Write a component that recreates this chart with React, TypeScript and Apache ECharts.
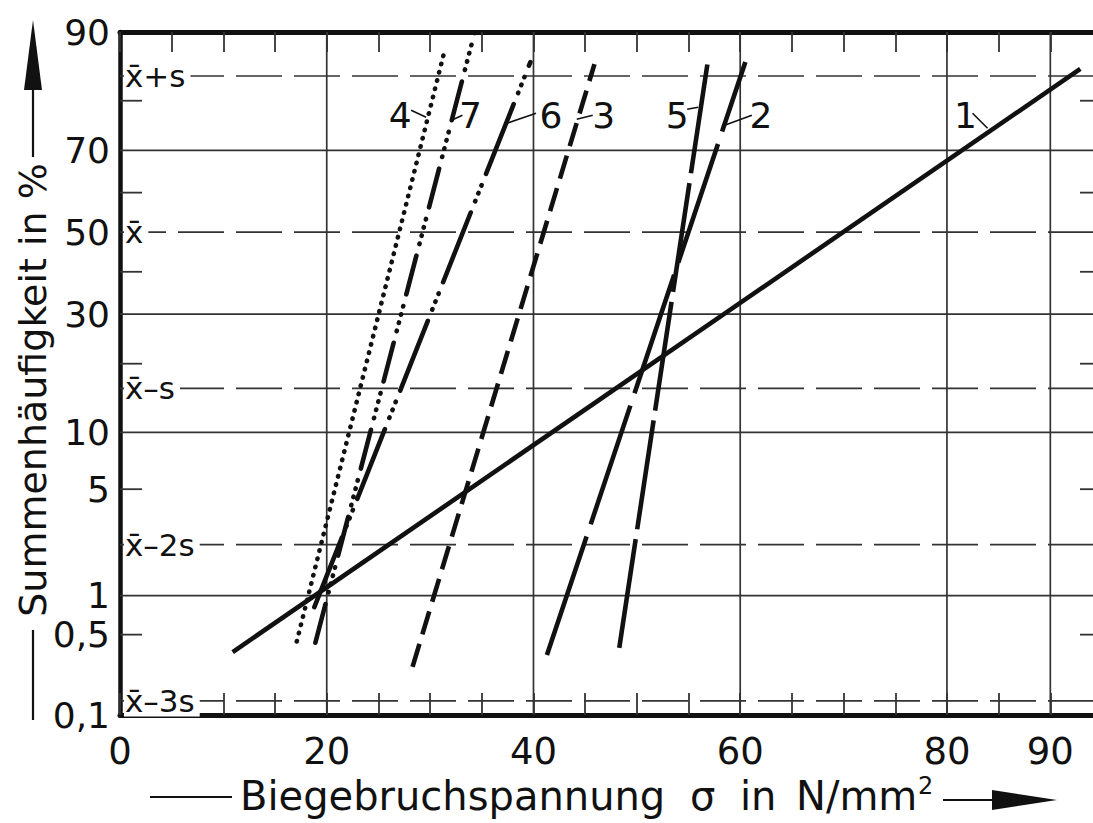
import React, { useEffect, useRef } from 'react';
import * as echarts from 'echarts';

// ---------- data ----------
const xTickValues = [0, 20, 40, 60, 80, 90];
const xGridValues = [20, 40, 60, 80, 90];
const yTickPercents = [90, 70, 50, 30, 10, 5, 1, 0.5, 0.1];
const yTickLabels = ['90', '70', '50', '30', '10', '5', '1', '0,5', '0,1'];
const ySolidPercents = [70, 30, 10, 1];
const yMinorPercents = [80, 60, 40, 20, 5, 0.5];
const sigmaLevels = [1, 0, -1, -2, -3];
const sigmaLabels = ['x\u0304+s', 'x\u0304', 'x\u0304\u2013s', 'x\u0304\u20132s', 'x\u0304\u20133s'];

const curveNames = ['1', '2', '3', '4', '5', '6', '7'];
// [start, end] stress values (N/mm²)
const curveStress = [
  [10.9, 92.9],
  [41.3, 60.5],
  [28.3, 45.9],
  [17.1, 31.3],
  [48.3, 56.9],
  [18.8, 39.7],
  [18.9, 34.3],
];
// [start, end] cumulative frequency in %
const curvePercent = [
  [0.36, 85.2],
  [0.34, 86.2],
  [0.27, 85.9],
  [0.44, 87.2],
  [0.39, 86.6],
  [0.82, 86.2],
  [0.43, 89.9],
];
const curveLabelStress = [81.8, 62.0, 46.8, 27.1, 53.9, 41.7, 33.9];
const curveLabelPercent = 77.3;

// ---------- styles ----------
const FONT = '"DejaVu Sans", sans-serif';
const INK = '#111';
const GRIDC = '#333';
const X_MIN = 0;
const X_MAX = 95;

const curveDash: any[] = [
  'solid',
  [125, 13],
  [24, 10],
  [0.5, 8],
  [110, 10],
  [75, 12, 0.5, 8, 0.5, 8, 0.5, 12],
  [40, 12, 0.5, 8, 0.5, 8, 0.5, 8, 0.5, 12],
];
const curveCap = ['butt', 'butt', 'butt', 'round', 'butt', 'round', 'round'];
// leader line offsets relative to label centre [x1, y1, x2, y2] in px
const leaderOffsets = [
  [7, -2, 22, 13],
  [-39, 11, -9, 0],
  [-27, 4, -11, 0],
  [11, -5, 26, 2],
  [10, -6, 21, -8],
  [-44, 8, -15, -2],
  [-19, 5, -8, 0],
];

// inverse of the standard normal CDF (probability-paper scale)
function probit(p: number): number {
  const a = [-3.969683028665376e1, 2.209460984245205e2, -2.759285104469687e2, 1.38357751867269e2, -3.066479806614716e1, 2.506628277459239];
  const b = [-5.447609879822406e1, 1.615858368580409e2, -1.556989798598866e2, 6.680131188771972e1, -1.328068155288572e1];
  const c = [-7.784894002430293e-3, -3.223964580411365e-1, -2.400758277161838, -2.549732539343734, 4.374664141464968, 2.938163982698783];
  const d = [7.784695709041462e-3, 3.224671290700398e-1, 2.445134137142996, 3.754408661907416];
  const plow = 0.02425;
  if (p < plow) {
    const q = Math.sqrt(-2 * Math.log(p));
    return (((((c[0] * q + c[1]) * q + c[2]) * q + c[3]) * q + c[4]) * q + c[5]) / ((((d[0] * q + d[1]) * q + d[2]) * q + d[3]) * q + 1);
  }
  if (p <= 1 - plow) {
    const q = p - 0.5;
    const r = q * q;
    return ((((((a[0] * r + a[1]) * r + a[2]) * r + a[3]) * r + a[4]) * r + a[5]) * q) / (((((b[0] * r + b[1]) * r + b[2]) * r + b[3]) * r + b[4]) * r + 1);
  }
  const q = Math.sqrt(-2 * Math.log(1 - p));
  return -(((((c[0] * q + c[1]) * q + c[2]) * q + c[3]) * q + c[4]) * q + c[5]) / ((((d[0] * q + d[1]) * q + d[2]) * q + d[3]) * q + 1);
}
const z = (pct: number) => probit(pct / 100);
const Y_MIN = z(0.1);
const Y_MAX = z(90);

function buildOption(): any {
  const curveSeries = curveNames.map((name, i) => ({
    type: 'line',
    name,
    data: [
      [curveStress[i][0], z(curvePercent[i][0])],
      [curveStress[i][1], z(curvePercent[i][1])],
    ],
    symbol: 'none',
    showSymbol: false,
    silent: true,
    z: 5,
    lineStyle: { color: INK, width: 4.6, type: curveDash[i], cap: curveCap[i] },
  }));

  const hLines = {
    type: 'custom',
    silent: true,
    z: 1,
    data: ySolidPercents.map((p) => [X_MIN, z(p)]),
    renderItem: (params: any, api: any) => {
      const a = api.coord([X_MIN, api.value(1)]);
      const b = api.coord([X_MAX, api.value(1)]);
      return { type: 'line', shape: { x1: a[0], y1: a[1], x2: b[0], y2: b[1] }, style: { stroke: GRIDC, lineWidth: 1.7 } };
    },
  };

  const vLines = {
    type: 'custom',
    silent: true,
    z: 1,
    data: xGridValues.map((x) => [x, Y_MIN]),
    renderItem: (params: any, api: any) => {
      const a = api.coord([api.value(0), Y_MIN]);
      const b = api.coord([api.value(0), Y_MAX]);
      return { type: 'line', shape: { x1: a[0], y1: a[1], x2: b[0], y2: b[1] }, style: { stroke: GRIDC, lineWidth: 1.7 } };
    },
  };

  const minorTicks = {
    type: 'custom',
    silent: true,
    z: 1,
    data: yMinorPercents.map((p) => [X_MIN, z(p)]),
    renderItem: (params: any, api: any) => {
      const a = api.coord([X_MIN, api.value(1)]);
      const b = api.coord([X_MAX, api.value(1)]);
      return {
        type: 'group',
        children: [
          { type: 'line', shape: { x1: a[0], y1: a[1], x2: a[0] + 22, y2: a[1] }, style: { stroke: GRIDC, lineWidth: 1.8 } },
          { type: 'line', shape: { x1: b[0] - 22, y1: b[1], x2: b[0], y2: b[1] }, style: { stroke: GRIDC, lineWidth: 1.8 } },
        ],
      };
    },
  };

  const sigmaSeries = {
    type: 'custom',
    silent: true,
    z: 2,
    data: sigmaLevels.map((s) => [X_MIN, s]),
    renderItem: (params: any, api: any) => {
      const a = api.coord([X_MIN, api.value(1)]);
      const b = api.coord([X_MAX, api.value(1)]);
      return {
        type: 'group',
        children: [
          { type: 'line', shape: { x1: a[0], y1: a[1], x2: b[0], y2: b[1] }, style: { stroke: GRIDC, lineWidth: 1.7, lineDash: [46, 12] } },
          {
            type: 'text',
            x: a[0] + 4,
            y: a[1],
            style: {
              text: sigmaLabels[params.dataIndex],
              fill: INK,
              fontSize: 31,
              fontFamily: FONT,
              align: 'left',
              verticalAlign: 'middle',
              backgroundColor: '#fff',
              padding: [0, 5, 0, 1],
            },
          },
        ],
      };
    },
  };

  const yLabels = {
    type: 'custom',
    silent: true,
    z: 2,
    data: yTickPercents.map((p) => [X_MIN, z(p)]),
    renderItem: (params: any, api: any) => {
      const a = api.coord([X_MIN, api.value(1)]);
      return {
        type: 'text',
        x: a[0] - 10,
        y: a[1],
        style: { text: yTickLabels[params.dataIndex], fill: INK, fontSize: 36, fontFamily: FONT, align: 'right', verticalAlign: 'middle' },
      };
    },
  };

  const curveLabels = {
    type: 'custom',
    silent: true,
    z: 6,
    data: curveLabelStress.map((x) => [x, z(curveLabelPercent)]),
    renderItem: (params: any, api: any) => {
      const c = api.coord([api.value(0), api.value(1)]);
      const o = leaderOffsets[params.dataIndex];
      return {
        type: 'group',
        children: [
          {
            type: 'text',
            x: c[0],
            y: c[1],
            style: { text: curveNames[params.dataIndex], fill: INK, fontSize: 36, fontFamily: FONT, align: 'center', verticalAlign: 'middle' },
          },
          { type: 'line', shape: { x1: c[0] + o[0], y1: c[1] + o[1], x2: c[0] + o[2], y2: c[1] + o[3] }, style: { stroke: INK, lineWidth: 1.6 } },
        ],
      };
    },
  };

  return {
    animation: false,
    backgroundColor: '#fff',
    textStyle: { fontFamily: FONT },
    grid: { left: 120, right: -9, top: 32, bottom: 108, outerBoundsMode: 'none' },
    xAxis: [
      {
        type: 'value',
        position: 'bottom',
        min: X_MIN,
        max: X_MAX,
        interval: 5,
        axisLine: { show: true, onZero: false, lineStyle: { color: INK, width: 5 } },
        axisTick: { show: true, inside: true, length: 22, lineStyle: { color: GRIDC, width: 1.8 } },
        splitLine: { show: false },
        axisLabel: {
          show: true,
          margin: 36,
          verticalAlign: 'middle',
          color: INK,
          fontSize: 37,
          fontFamily: FONT,
          formatter: (v: number) => (xTickValues.indexOf(v) >= 0 ? String(v) : ''),
        },
      },
      {
        type: 'value',
        position: 'top',
        min: X_MIN,
        max: X_MAX,
        interval: 5,
        axisLine: { show: true, onZero: false, lineStyle: { color: INK, width: 5 } },
        axisTick: { show: true, inside: true, length: 20, lineStyle: { color: GRIDC, width: 1.8 } },
        splitLine: { show: false },
        axisLabel: { show: false },
      },
    ],
    yAxis: {
      type: 'value',
      min: Y_MIN,
      max: Y_MAX,
      axisLine: { show: true, onZero: false, lineStyle: { color: INK, width: 4.5 } },
      axisTick: { show: false },
      axisLabel: { show: false },
      splitLine: { show: false },
    },
    graphic: [
      // y-axis title
      {
        type: 'text',
        x: 33,
        y: 390,
        rotation: Math.PI / 2,
        style: { text: 'Summenh\u00e4ufigkeit in %', fill: INK, fontSize: 38, fontFamily: FONT, align: 'center', verticalAlign: 'middle' },
      },
      { type: 'line', shape: { x1: 33, y1: 630, x2: 33, y2: 720 }, style: { stroke: INK, lineWidth: 2.2 } },
      { type: 'line', shape: { x1: 33, y1: 157, x2: 33, y2: 80 }, style: { stroke: INK, lineWidth: 2.2 } },
      { type: 'polygon', shape: { points: [[33, 20], [24, 90], [42, 90]] }, style: { fill: INK } },
      // x-axis title
      { type: 'line', shape: { x1: 150, y1: 797, x2: 232, y2: 797 }, style: { stroke: INK, lineWidth: 2.2 } },
      { type: 'text', x: 240, y: 796, style: { text: 'Biegebruchspannung', fill: INK, fontSize: 40, fontFamily: FONT, align: 'left', verticalAlign: 'middle' } },
      { type: 'text', x: 690, y: 796, style: { text: '\u03c3', fill: INK, fontSize: 40, fontFamily: FONT, align: 'left', verticalAlign: 'middle' } },
      { type: 'text', x: 740, y: 796, style: { text: 'in', fill: INK, fontSize: 40, fontFamily: FONT, align: 'left', verticalAlign: 'middle' } },
      { type: 'text', x: 796, y: 796, style: { text: 'N/mm', fill: INK, fontSize: 40, fontFamily: FONT, align: 'left', verticalAlign: 'middle' } },
      { type: 'text', x: 918, y: 786, style: { text: '2', fill: INK, fontSize: 24, fontFamily: FONT, align: 'left', verticalAlign: 'middle' } },
      { type: 'line', shape: { x1: 943, y1: 800, x2: 1000, y2: 800 }, style: { stroke: INK, lineWidth: 2.2 } },
      { type: 'polygon', shape: { points: [[992, 790], [1057, 800], [992, 810]] }, style: { fill: INK } },
    ],
    series: [vLines, hLines, minorTicks, sigmaSeries, yLabels, ...curveSeries, curveLabels],
  };
}

export default function App() {
  const ref = useRef<HTMLDivElement>(null);
  useEffect(() => {
    if (!ref.current) return;
    const chart = echarts.init(ref.current, null, { renderer: 'svg' });
    chart.setOption(buildOption());
    return () => chart.dispose();
  }, []);
  return (
    <div
      ref={ref}
      style={{ position: 'fixed', left: 0, top: 0, width: 1093, height: 823, background: '#fff' }}
    />
  );
}
